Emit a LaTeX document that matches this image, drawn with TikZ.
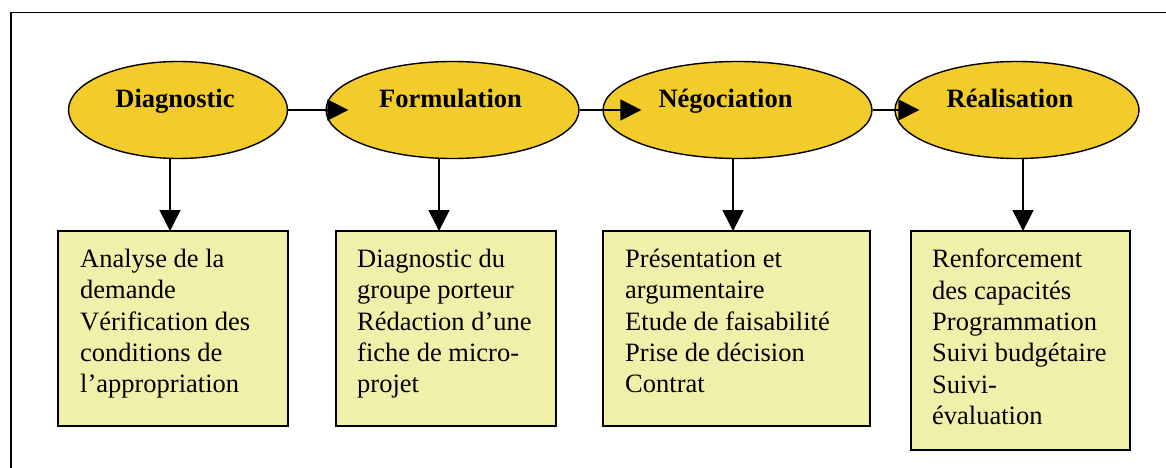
\documentclass[tikz,border=0pt]{standalone}
\usepackage{fontspec}
\setmainfont{Liberation Serif}
\usetikzlibrary{shapes.geometric,arrows.meta,positioning}
\definecolor{phasegold}{RGB}{242,204,42}
\definecolor{taskyellow}{RGB}{241,240,170}

\begin{document}
\begin{tikzpicture}[x=1pt,y=-1pt,>={Triangle[length=21pt,width=21pt]},
  phase/.style={ellipse,draw,fill=phasegold,line width=1.4pt,inner sep=0pt,minimum height=97pt},
  phasetext/.style={font=\fontsize{26.5}{31}\selectfont\bfseries,text height=18pt,text depth=6pt,inner sep=0pt},
  task/.style={rectangle,draw,fill=taskyellow,line width=1.6pt,inner sep=0pt,outer sep=0pt,anchor=north west},
  note/.style={anchor=north west,align=left,inner sep=0pt,font=\fontsize{26.5}{31.3}\selectfont},
  flow/.style={->,line width=1.6pt}]

    \clip (0,0) rectangle (1166,468);
    % The frame
    \draw[line width=1.6pt] (11,520) -- (11,12.5) -- (1220,12.5);

    % The phases
    \node [phase,minimum width=219pt] at (178,110) (diag) {};
    \node [phase,minimum width=253pt] at (452.5,110) (form) {};
    \node [phase,minimum width=269pt] at (737.5,110) (nego) {};
    \node [phase,minimum width=244pt] at (1017,110) (real) {};

    \node [phasetext] at ([shift={(-3,-8)}]diag.center) (tdiag) {Diagnostic};
    \node [phasetext] at ([shift={(-2,-8)}]form.center) (tform) {Formulation};
    \node [phasetext] at ([shift={(-12,-8)}]nego.center) (tnego) {Négociation};
    \node [phasetext] at ([shift={(-7,-8)}]real.center) (treal) {Réalisation};

    % The tasks
    \node [task,minimum width=230pt,minimum height=195pt] at (58,231) (ana) {};
    \node [task,minimum width=220pt,minimum height=195pt] at (336,231) (redac) {};
    \node [task,minimum width=267pt,minimum height=195pt] at (603,231) (decis) {};
    \node [task,minimum width=219pt,minimum height=219pt] at (911,231) (suivi) {};

    \node [note] at ([shift={(22,18)}]ana.north west) (nana)
      {Analyse de la\\demande\\Vérification des\\conditions de\\l’appropriation};
    \node [note] at ([shift={(21,18)}]redac.north west) (nredac)
      {Diagnostic du\\groupe porteur\\Rédaction d’une\\fiche de micro-\\projet};
    \node [note] at ([shift={(22,18)}]decis.north west) (ndecis)
      {Présentation et\\argumentaire\\Etude de faisabilité\\Prise de décision\\Contrat};
    \node [note] at ([shift={(21,18)}]suivi.north west) (nsuivi)
      {Renforcement\\des capacités\\Programmation\\Suivi budgétaire\\Suivi-\\évaluation};

    % Phase to phase
    \draw[flow] (diag.east) -- ([xshift=23pt]form.west);
    \draw[flow] (form.east) -- ([xshift=39pt]nego.west);
    \draw[flow] (nego.east) -- ([xshift=25pt]real.west);

    % Phase to tasks
    \draw[flow] ([xshift=-3pt]ana.north |- diag.south) -- ([xshift=-3pt]ana.north);
    \draw[flow] ([xshift=-7pt]redac.north |- form.south) -- ([xshift=-7pt]redac.north);
    \draw[flow] ([xshift=-3.5pt]decis.north |- nego.south) -- ([xshift=-3.5pt]decis.north);
    \draw[flow] ([xshift=2.5pt]suivi.north |- real.south) -- ([xshift=2.5pt]suivi.north);
\end{tikzpicture}
\end{document}
